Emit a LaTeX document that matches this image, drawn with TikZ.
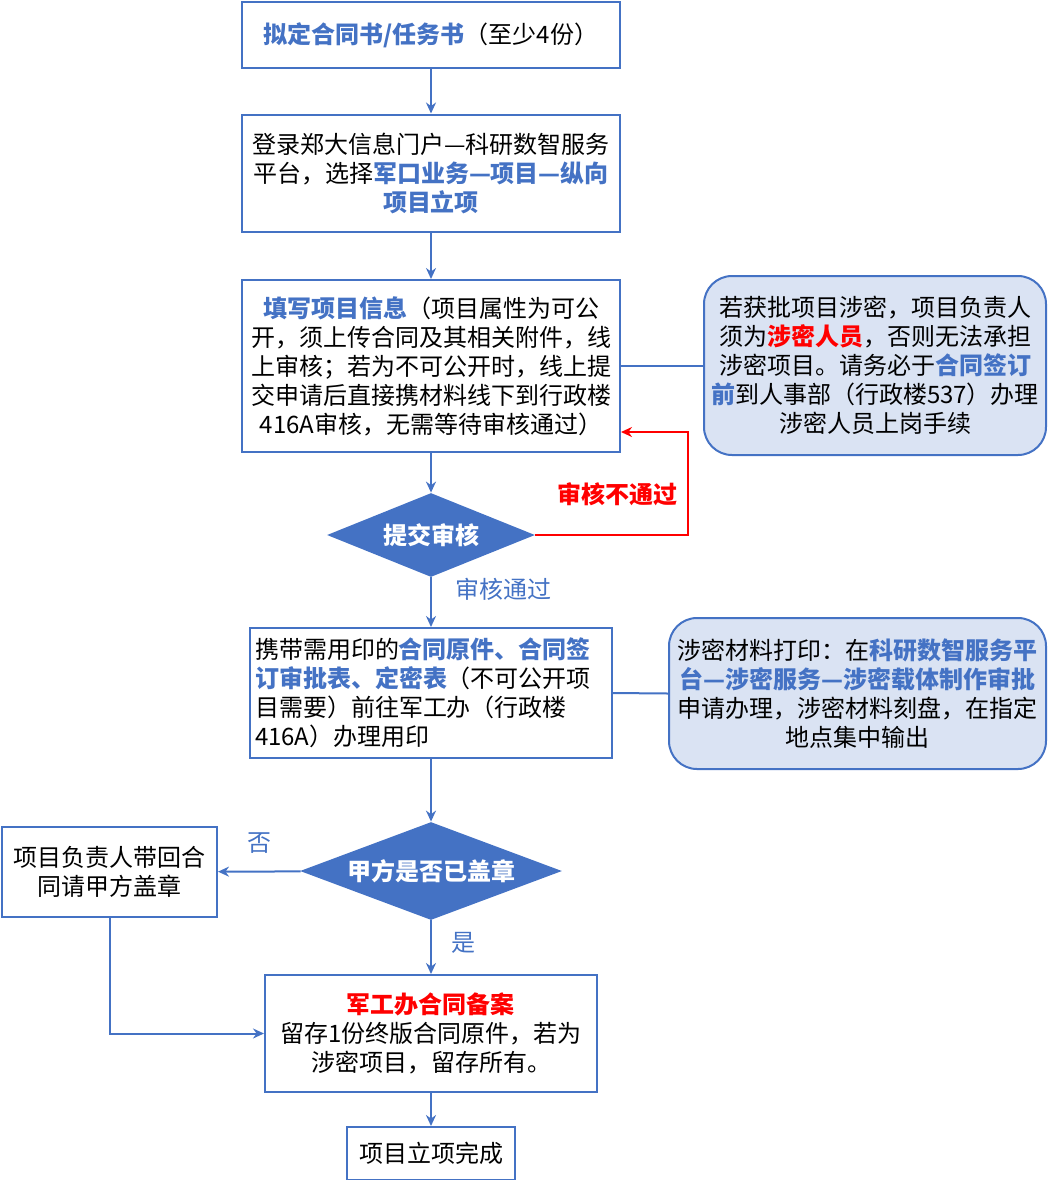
\documentclass[tikz,border=0pt]{standalone}
\usepackage{fontspec}
\setmainfont{Noto Sans CJK SC}
\definecolor{BoxColor}{RGB}{68,114,196}
\definecolor{NoteColor}{RGB}{218,227,243}
\definecolor{FailColor}{RGB}{255,0,0}
\usepackage{tikz}
\usetikzlibrary{shapes.geometric, arrows.meta}
\tikzstyle{arrow} = [line width=1pt, BoxColor, ->, >={Stealth[length=5.5pt, width=5pt]}]
\tikzstyle{link} = [line width=1pt, BoxColor]
\tikzstyle{stepbox} = [draw=BoxColor, line width=1pt, inner sep=0pt, align=center, font=\fontsize{12}{14.5}\selectfont]
\tikzstyle{notebox} = [stepbox, rounded corners=14pt, fill=NoteColor]
\tikzstyle{decision} = [diamond, aspect=2.6, fill=BoxColor, inner sep=0pt, text=white, font=\fontsize{12}{14.5}\selectfont\bfseries]
\tikzstyle{tag} = [inner sep=0pt, font=\fontsize{12}{14.5}\selectfont]

\begin{document}
\begin{tikzpicture}[x=0.5pt, y=-0.5pt]
            \useasboundingbox (0,0) rectangle (1053,1180);

            % Main steps
            \node[stepbox, minimum width=189pt, minimum height=33pt] (draft) at (431,35)
                {\textcolor{BoxColor}{\textbf{拟定合同书/任务书}}（至少4份）};
            \node[stepbox, minimum width=189pt, minimum height=58.5pt] (login) at (431,173)
                {登录郑大信息门户—科研数智服务\\平台，选择\textcolor{BoxColor}{\textbf{军口业务—项目—纵向}}\\\textcolor{BoxColor}{\textbf{项目立项}}};
            \node[stepbox, minimum width=189pt, minimum height=86pt] (fill) at (431,366)
                {\textcolor{BoxColor}{\textbf{填写项目信息}}（项目属性为可公\\开，须上传合同及其相关附件，线\\上审核；若为不可公开时，线上提\\交申请后直接携材料线下到行政楼\\416A审核，无需等待审核通过）};
            \node[decision, minimum width=104pt, minimum height=42pt] (check) at (431,535) {提交审核};
            \node[stepbox, align=left, text width=176pt, minimum width=181pt, minimum height=65pt] (seal) at (431,693)
                {携带需用印的\textcolor{BoxColor}{\textbf{合同原件、合同签}}\\\textcolor{BoxColor}{\textbf{订审批表、定密表}}（不可公开项\\目需要）前往军工办（行政楼\\416A）办理用印};
            \node[decision, minimum width=131pt, minimum height=49pt] (stamp) at (431,871) {甲方是否已盖章};
            \node[stepbox, minimum width=107.5pt, minimum height=45pt] (redo) at (109.5,872)
                {项目负责人带回合\\同请甲方盖章};
            \node[stepbox, minimum width=166pt, minimum height=58.5pt] (archive) at (431,1033.5)
                {\textcolor{FailColor}{\textbf{军工办合同备案}}\\留存1份终版合同原件，若为\\涉密项目，留存所有。};
            \node[stepbox, minimum width=84pt, minimum height=26.5pt] (done) at (431,1153.5) {项目立项完成};

            % Notes
            \node[notebox, minimum width=171pt, minimum height=89.5pt] (secret) at (875,365.5)
                {若获批项目涉密，项目负责人\\须为\textcolor{FailColor}{\textbf{涉密人员}}，否则无法承担\\涉密项目。请务必于\textcolor{BoxColor}{\textbf{合同签订}}\\\textcolor{BoxColor}{\textbf{前}}到人事部（行政楼537）办理\\涉密人员上岗手续};
            \node[notebox, minimum width=188.5pt, minimum height=75.5pt] (print) at (857.5,693.5)
                {涉密材料打印：在\textcolor{BoxColor}{\textbf{科研数智服务平}}\\\textcolor{BoxColor}{\textbf{台—涉密服务—涉密载体制作审批}}\\申请办理，涉密材料刻盘，在指定\\地点集中输出};

            % Labels
            \node[tag, text=FailColor, font=\fontsize{12}{14.5}\selectfont\bfseries] (fail) at (617,494) {审核不通过};
            \node[tag, text=BoxColor] (pass) at (503,589) {审核通过};
            \node[tag, text=BoxColor] (no) at (259,843) {否};
            \node[tag, text=BoxColor] (yes) at (463,943) {是};

            % Connectors
            \draw[arrow] (draft) -- (login);
            \draw[arrow] (login) -- (fill);
            \draw[arrow] (fill) -- (check);
            \draw[arrow] (check) -- (seal);
            \draw[arrow] (seal) -- (stamp);
            \draw[arrow] (stamp) -- (redo);
            \draw[arrow] (stamp) -- (archive);
            \draw[arrow] (redo.south) |- (archive.west);
            \draw[arrow] (archive) -- (done);
            \coordinate (back) at (688,432);
            \draw[arrow, FailColor] (check.east) -| (back) -- (fill.east |- back);
            \draw[link] (fill.east |- secret.west) -- (secret.west);
            \draw[link] (seal.east) -- (print.west);
        \end{tikzpicture}
\end{document}
